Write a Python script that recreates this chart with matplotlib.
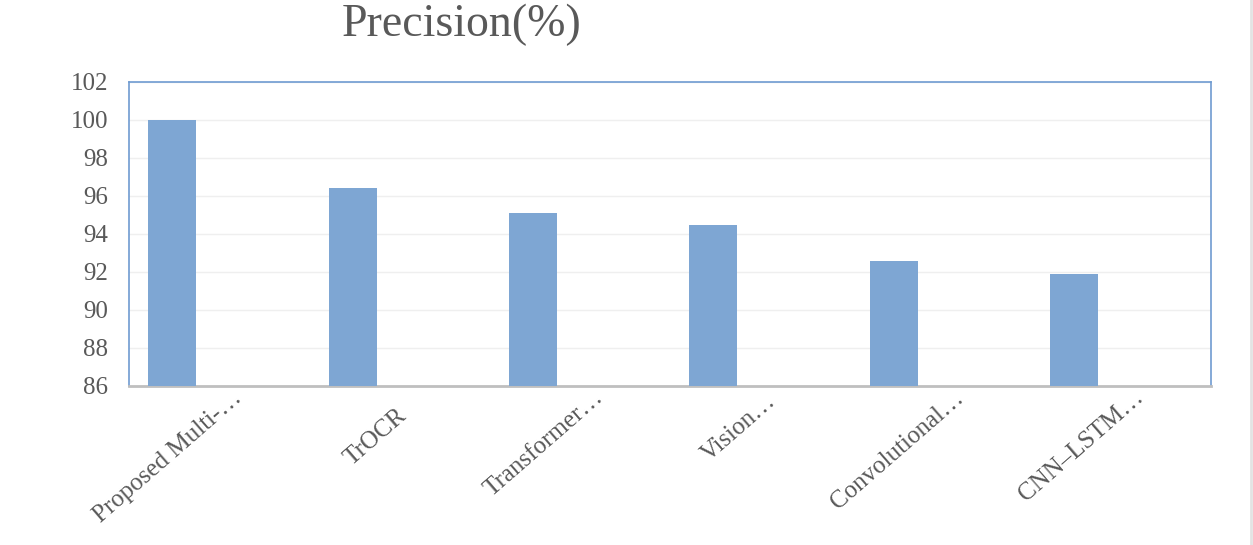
import matplotlib.pyplot as plt
import matplotlib.transforms as mtransforms
from matplotlib.lines import Line2D

modelos = ["Proposed Multi-…", "TrOCR", "Transformer…", "Vision…",
           "Convolutional…", "CNN–LSTM…"]
precision = [100.0, 96.4, 95.1, 94.5, 92.6, 91.9]
y_ticks = [86, 88, 90, 92, 94, 96, 98, 100, 102]


def main():
    plt.rcParams['font.family'] = ['Liberation Serif', 'DejaVu Serif']
    gris = '#595959'

    fig = plt.figure(figsize=(12.53, 5.45), dpi=100)
    ax = fig.add_axes([129 / 1253, 1 - 386 / 545, 1082 / 1253, 304 / 545])

    posiciones = list(range(len(modelos)))
    # barra desplazada a la izquierda, como en Excel con serie vacia
    x_barras = [p - 0.26 for p in posiciones]
    ax.bar(x_barras, precision, width=0.265, color='#7EA6D3', zorder=3)

    ax.set_xlim(-0.5, len(modelos) - 0.5)
    ax.set_ylim(86, 102)
    ax.set_yticks(y_ticks)
    ax.set_yticklabels([str(v) for v in y_ticks], fontsize=18, color=gris)
    ax.tick_params(axis='y', length=0, pad=15)
    ax.tick_params(axis='x', length=0, pad=4)
    ax.grid(axis='y', color='#EFEFEF', linewidth=1, zorder=0)

    ax.set_xticks(posiciones)
    ax.set_xticklabels(modelos, rotation=41, ha='right', rotation_mode='anchor',
                       fontsize=18, color=gris)
    # las etiquetas cortas quedan algo mas abajo en el original (px)
    ajuste = {"TrOCR": (-16, -18), "Vision…": (-8, -3)}
    for etiqueta in ax.get_xticklabels():
        dx, dy = ajuste.get(etiqueta.get_text(), (0, 0))
        desplazamiento = mtransforms.ScaledTranslation((13 + dx) / 100, (5 + dy) / 100,
                                                       fig.dpi_scale_trans)
        etiqueta.set_transform(etiqueta.get_transform() + desplazamiento)

    for lado in ['left', 'top', 'right']:
        ax.spines[lado].set_color('#6F9BD1')
        ax.spines[lado].set_linewidth(1.2)
    ax.spines['bottom'].set_color('#BFBFBF')
    ax.spines['bottom'].set_linewidth(2)

    fig.text(462 / 1253, 1 - 25 / 545, "Precision(%)", fontsize=33, color=gris,
             ha='center', va='center')

    fig.add_artist(Line2D([1251 / 1253, 1251 / 1253], [0, 1], color='#E3E3E3',
                          linewidth=2, transform=fig.transFigure))

    fig.savefig('out.png', dpi=100)


if __name__ == '__main__':
    main()
